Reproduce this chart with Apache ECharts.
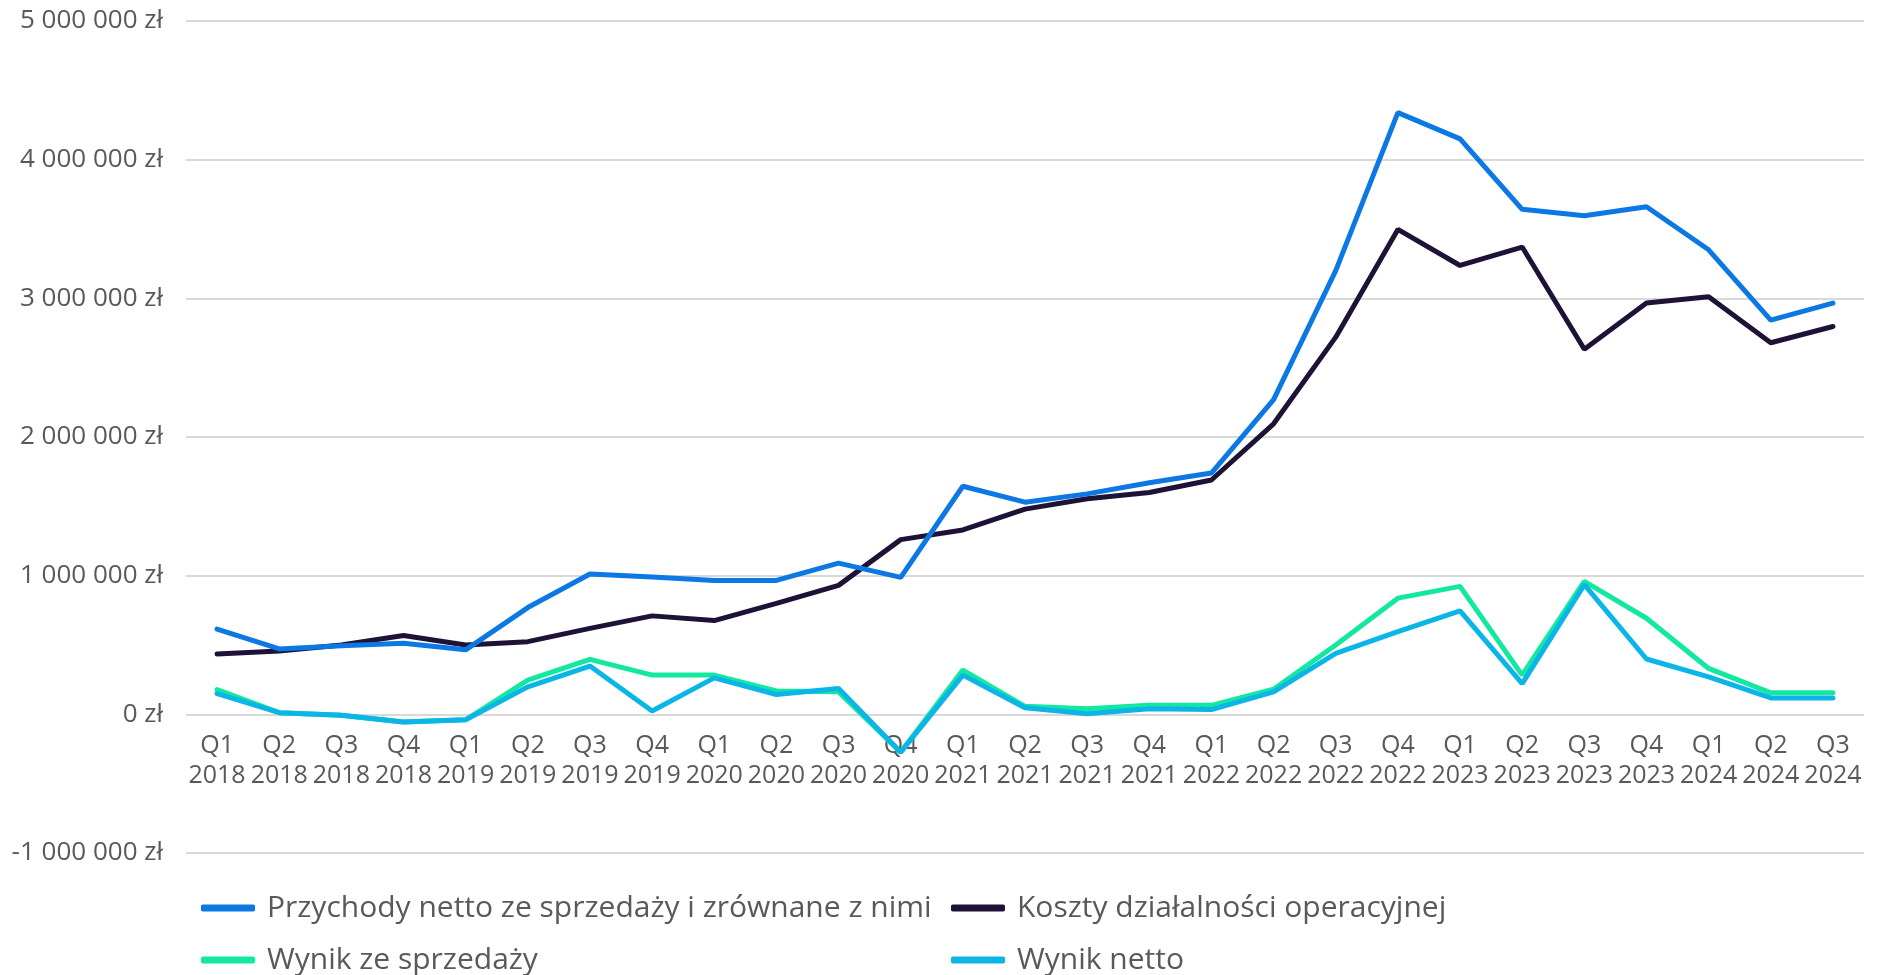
<!DOCTYPE html>
<html><head><meta charset="utf-8">
<script src="https://cdn.jsdelivr.net/npm/echarts@6/dist/echarts.min.js"></script>
<style>html,body{margin:0;padding:0;background:#fff}#c{width:1880px;height:975px}</style>
</head><body><div id="c"></div>
<script>
const categories = ['Q1\n2018','Q2\n2018','Q3\n2018','Q4\n2018','Q1\n2019','Q2\n2019','Q3\n2019','Q4\n2019','Q1\n2020','Q2\n2020','Q3\n2020','Q4\n2020','Q1\n2021','Q2\n2021','Q3\n2021','Q4\n2021','Q1\n2022','Q2\n2022','Q3\n2022','Q4\n2022','Q1\n2023','Q2\n2023','Q3\n2023','Q4\n2023','Q1\n2024','Q2\n2024','Q3\n2024'];
const seriesNames = ['Przychody netto ze sprzedaży i zrównane z nimi','Koszty działalności operacyjnej','Wynik ze sprzedaży','Wynik netto'];
const przychody = [615000,472000,495000,512000,465000,770000,1012000,990000,966000,966000,1090000,988000,1645000,1530000,1590000,1670000,1740000,2270000,3200000,4339000,4150000,3642000,3596000,3660000,3350000,2843000,2966000];
const koszty = [435000,457000,500000,568000,500000,524000,620000,710000,676000,800000,930000,1260000,1330000,1480000,1555000,1600000,1690000,2095000,2720000,3497000,3237000,3370000,2633000,2966000,3012000,2680000,2797000];
const wynikSprzedazy = [179000,12000,-7000,-56000,-39000,246000,396000,283000,283000,169000,162000,-273000,319000,58000,41000,65000,65000,181000,500000,838000,923000,283000,959000,693000,331000,155000,155000];
const wynikNetto = [150000,12000,-7000,-56000,-39000,198000,348000,24000,263000,143000,186000,-273000,283000,48000,5000,41000,34000,162000,440000,597000,746000,222000,935000,399000,270000,118000,118000];
const yTicks = {min:-1000000, max:5000000, interval:1000000};
const colors = ['#0B78E3','#1E1237','#12E8A0','#0BB5E8'];

const FONT = 'Open Sans';
const GRID = {left:186, right:16, top:21, bottom:122};
const plotH = 975 - GRID.top - GRID.bottom;
// shift category axis up from the grid bottom to the zero line
const zeroOffset = -plotH * (0 - yTicks.min) / (yTicks.max - yTicks.min);
function fmt(v){
  const s = Math.abs(v).toString().replace(/\B(?=(\d{3})+(?!\d))/g,' ');
  return (v<0?'-':'') + s + ' zł';
}
const chart = echarts.init(document.getElementById('c'));
const dataArr = [przychody, koszty, wynikSprzedazy, wynikNetto];
function legendOf(left, names){
  return {
    left:left, top:893, orient:'vertical', padding:0, icon:'roundRect',
    itemWidth:54, itemHeight:7, itemGap:22, data:names,
    textStyle:{fontFamily:FONT, fontSize:30, color:'#595959', lineHeight:29, padding:[0,0,0,7]}
  };
}
chart.setOption({
  animation:false,
  color: colors,
  grid:Object.assign({containLabel:false}, GRID),
  xAxis:{type:'category', data:categories, boundaryGap:true, position:'bottom', offset:zeroOffset,
    axisLine:{show:false, onZero:false}, axisTick:{show:false},
    axisLabel:{interval:0, margin:17, fontFamily:FONT, fontSize:25, lineHeight:30, color:'#595959'}},
  yAxis:{type:'value', min:yTicks.min, max:yTicks.max, interval:yTicks.interval,
    axisLine:{show:false}, axisTick:{show:false},
    splitLine:{lineStyle:{color:'#d9d9d9', width:2}},
    axisLabel:{margin:23, fontFamily:FONT, fontSize:26, color:'#595959', formatter:fmt}},
  legend:[ legendOf(201, [seriesNames[0], seriesNames[2]]), legendOf(951, [seriesNames[1], seriesNames[3]]) ],
  series: seriesNames.map((n,i)=>({
    name:n, type:'line', data:dataArr[i], symbol:'none', z: [3,2,1,4][i],
    lineStyle:{width:5, color:colors[i], cap:'round'}, itemStyle:{color:colors[i]}
  }))
});
</script></body></html>
